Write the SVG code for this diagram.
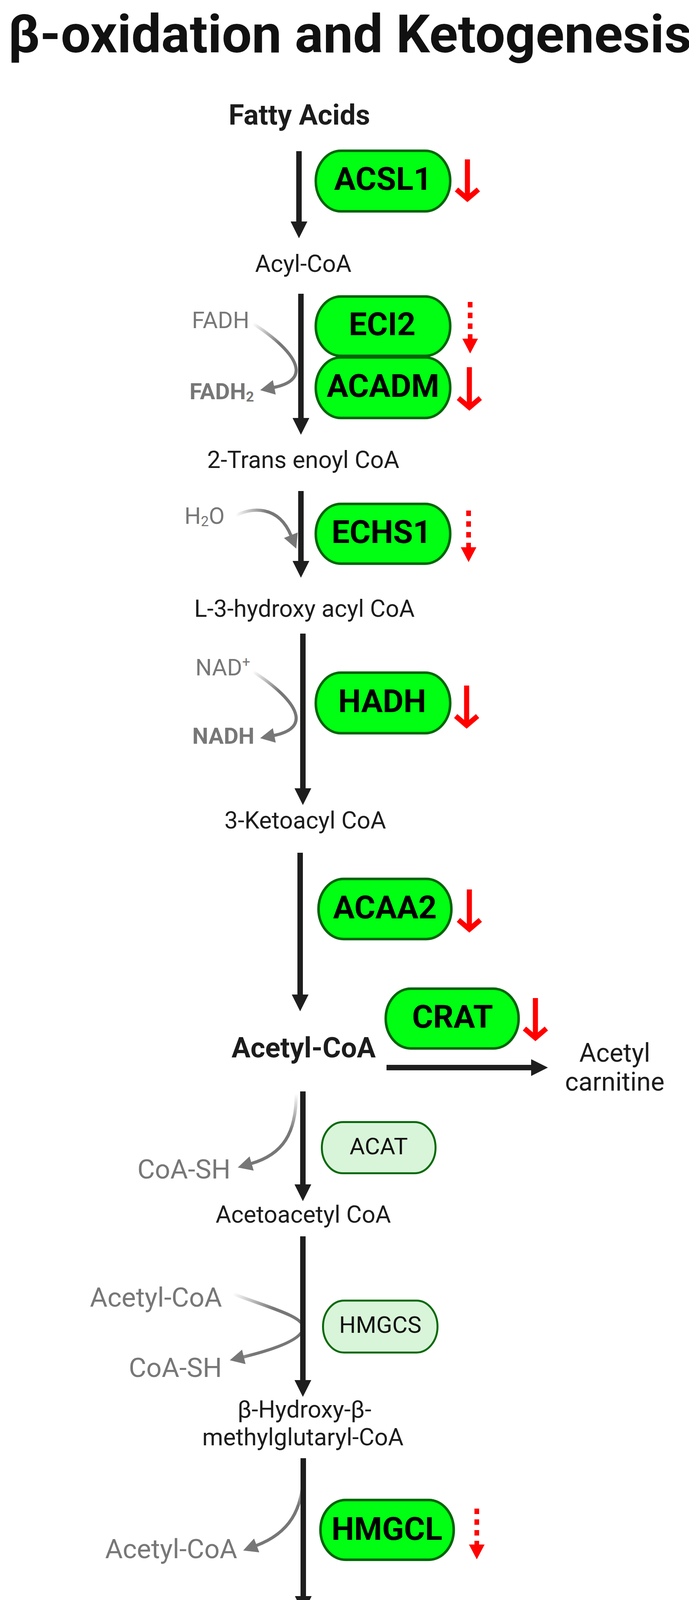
<svg xmlns="http://www.w3.org/2000/svg" width="1763" height="4709" viewBox="0 0 1763 4709">
<style>
text{font-family:Roboto,"Liberation Sans",sans-serif}
.title{font-size:136px;font-weight:700;fill:#111}
.lbl{font-size:61px;fill:#1c1c1c;text-anchor:middle}
.lblb{font-size:72px;font-weight:700;fill:#1c1c1c;text-anchor:middle}
.enz{font-size:82px;font-weight:700;fill:#000;text-anchor:middle}
.enzl{font-size:60px;fill:#111;text-anchor:middle}
.gs{font-size:59px;fill:#777}
.gsb{font-size:58px;font-weight:700;fill:#777}
.gl{font-size:69px;fill:#777;text-anchor:end}
.glb{font-size:68px;font-weight:700;fill:#777;text-anchor:end}
.box{fill:#00ff12;stroke:#006408;stroke-width:6.5}
.boxl{fill:#d9f5d9;stroke:#086a0a;stroke-width:5}
.main{fill:none;stroke:#1e1e1e;stroke-width:14;marker-end:url(#ah)}
.red{fill:none;stroke:#ff0000;stroke-width:13;stroke-linejoin:miter}
.redd{fill:none;stroke:#ff0000;stroke-width:12;stroke-dasharray:14 13.5;marker-end:url(#rt)}
.gc{fill:none;stroke-width:8;marker-end:url(#gh)}
</style>
<defs>
<marker id="ah" viewBox="0 0 43 43" refX="3" refY="21.5" markerWidth="43" markerHeight="43" markerUnits="userSpaceOnUse" orient="auto"><path d="M0,0 L43,21.5 L0,43 z" fill="#1e1e1e"/></marker>
<marker id="rt" viewBox="0 0 38 40" refX="0" refY="20" markerWidth="38" markerHeight="40" markerUnits="userSpaceOnUse" orient="auto"><path d="M0,0 L38,20 L0,40 z" fill="#ff0000"/></marker>
<marker id="gh" viewBox="0 0 37 38" refX="2" refY="19" markerWidth="37" markerHeight="38" markerUnits="userSpaceOnUse" orient="auto"><path d="M0,0 L37,19 L0,38 z" fill="#777"/></marker>
<linearGradient id="g1" gradientUnits="userSpaceOnUse" x1="647" y1="828" x2="712" y2="880"><stop offset="0" stop-color="#fff"/><stop offset="1" stop-color="#777"/></linearGradient>
<linearGradient id="g2" gradientUnits="userSpaceOnUse" x1="603" y1="1320" x2="685" y2="1310"><stop offset="0" stop-color="#fff"/><stop offset="1" stop-color="#777"/></linearGradient>
<linearGradient id="g3" gradientUnits="userSpaceOnUse" x1="647" y1="1719" x2="712" y2="1771"><stop offset="0" stop-color="#fff"/><stop offset="1" stop-color="#777"/></linearGradient>
<linearGradient id="g4" gradientUnits="userSpaceOnUse" x1="758" y1="2800" x2="752" y2="2895"><stop offset="0" stop-color="#fff"/><stop offset="1" stop-color="#777"/></linearGradient>
<linearGradient id="g5" gradientUnits="userSpaceOnUse" x1="596" y1="3312" x2="695" y2="3358"><stop offset="0" stop-color="#fff"/><stop offset="1" stop-color="#777"/></linearGradient>
<linearGradient id="g6" gradientUnits="userSpaceOnUse" x1="776" y1="3768" x2="772" y2="3855"><stop offset="0" stop-color="#fff"/><stop offset="1" stop-color="#777"/></linearGradient>
<linearGradient id="g7" gradientUnits="userSpaceOnUse" x1="596" y1="4292" x2="695" y2="4338"><stop offset="0" stop-color="#fff"/><stop offset="1" stop-color="#777"/></linearGradient>
</defs>
<rect width="1763" height="4709" fill="#fff"/>
<text class="title" x="20" y="134">β-oxidation and Ketogenesis</text>

<g id="cofactor-connectors">
<path class="gc" stroke="url(#g1)" d="M647,828 C700,862 750,905 757,940 C763,970 735,985 700,992"/>
<path class="gc" stroke="url(#g2)" d="M603,1320 C640,1300 712,1290 745,1372"/>
<path class="gc" stroke="url(#g3)" d="M647,1719 C700,1753 750,1796 757,1831 C763,1861 735,1876 700,1883"/>
<path class="gc" stroke="url(#g4)" d="M758,2800 C758,2900 725,2955 642,2979"/>
<path class="gc" stroke="url(#g5)" d="M596,3312 C680,3345 780,3370 776,3400 C772,3430 700,3455 622,3474"/>
<path class="gc" stroke="url(#g6)" d="M776,3768 C776,3865 740,3925 655,3957"/>
<path class="gc" stroke="url(#g7)" d="M596,4292 C680,4325 780,4350 776,4380 C772,4410 700,4430 615,4452"/>
</g>

<g id="connectors">
<path class="main" d="M765,387 V570"/>
<path class="main" d="M770,752 V1073"/>
<path class="main" d="M770,1257 V1439"/>
<path class="main" d="M775,1622 V2021"/>
<path class="main" d="M768,2183 V2549"/>
<path class="main" d="M775,2794 V3035"/>
<path class="main" d="M775,3165 V3536"/>
<path class="main" d="M776,3733 V4089"/>
<path class="main" d="M776,4214 V4569"/>
<path class="main" d="M989,2733 H1362"/>
</g>

<g id="regulation-arrows">
<path class="red" d="M1196,408 V509 M1168,485 L1196,509 L1224,485"/>
<path class="redd" d="M1203,773 V867"/>
<path class="red" d="M1201,940 V1043 M1173,1019 L1201,1043 L1229,1019"/>
<path class="redd" d="M1199,1307 V1401"/>
<path class="red" d="M1194,1755 V1857 M1166,1833 L1194,1857 L1222,1833"/>
<path class="red" d="M1201,2277 V2379 M1173,2355 L1201,2379 L1229,2355"/>
<path class="red" d="M1370,2555 V2657 M1342,2633 L1370,2657 L1398,2633"/>
<path class="redd" d="M1220,3862 V3954"/>
<path class="redd" d="M1220,4319 V4413"/>
</g>

<g id="metabolites">
<text id="fatty-acids" class="lblb" x="766" y="319">Fatty Acids</text>
<text id="acyl-coa" class="lbl" x="776" y="696">Acyl-CoA</text>
<text id="trans-enoyl-coa" class="lbl" x="776" y="1198">2-Trans enoyl CoA</text>
<text id="hydroxy-acyl-coa" class="lbl" x="779" y="1579">L-3-hydroxy acyl CoA</text>
<text id="ketoacyl-coa" class="lbl" x="781" y="2121">3-Ketoacyl CoA</text>
<text id="acetyl-coa" class="lblb" x="777" y="2707">Acetyl-CoA</text>
<text id="acetyl-carnitine" class="lbl" style="font-size:66px" x="1573" y="2718">Acetyl<tspan x="1573" y="2792">carnitine</tspan></text>
<text id="acetoacetyl-coa" class="lbl" x="776" y="3130">Acetoacetyl CoA</text>
<text id="hmg-coa" class="lbl" x="779" y="3629">β-Hydroxy-β-<tspan x="775" y="3700">methylglutaryl-CoA</tspan></text>
<text id="acetoacetate" class="lbl" x="777" y="4183">Acetoacetate</text>
<text id="hydroxybutyrate" class="lbl" x="779" y="4665">D-β-hydroxybutyrate</text>
</g>

<g id="cofactors">
<text class="gs" x="638" y="840" text-anchor="end">FADH</text>
<text class="gsb" x="485" y="1022">FADH<tspan font-size="36" dy="6">2</tspan></text>
<text class="gs" x="472" y="1341">H<tspan font-size="36" dy="6">2</tspan><tspan dy="-6">O</tspan></text>
<text class="gs" x="500" y="1729">NAD<tspan font-size="36" dy="-22">+</tspan></text>
<text class="gsb" x="492" y="1904">NADH</text>
<text class="gl" x="590" y="3017">CoA-SH</text>
<text class="gl" x="568" y="3345">Acetyl-CoA</text>
<text class="gl" x="568" y="3525">CoA-SH</text>
<text class="gl" x="607" y="3989">Acetyl-CoA</text>
<text class="gl" x="571" y="4321">NADH</text>
<text class="glb" x="575" y="4483">NAD<tspan font-size="40" dy="-26">+</tspan></text>
</g>

<g id="ACSL1"><rect class="box" x="808" y="386" width="344" height="155" rx="64" ry="77.5"/><text class="enz" x="980" y="486">ACSL1</text></g>
<g id="ECI2"><rect class="box" x="808" y="759" width="344" height="152" rx="64" ry="76"/><text class="enz" x="978" y="858">ECI2</text></g>
<g id="ACADM"><rect class="box" x="808" y="915" width="344" height="155" rx="64" ry="77.5"/><text class="enz" x="980" y="1016">ACADM</text></g>
<g id="ECHS1"><rect class="box" x="808" y="1290" width="344" height="153" rx="64" ry="76.5"/><text class="enz" x="976" y="1390">ECHS1</text></g>
<g id="HADH"><rect class="box" x="808" y="1722" width="344" height="155" rx="64" ry="77.5"/><text class="enz" x="978" y="1823">HADH</text></g>
<g id="ACAA2"><rect class="box" x="815" y="2250" width="340" height="154" rx="64" ry="77"/><text class="enz" x="985" y="2351">ACAA2</text></g>
<g id="CRAT"><rect class="box" x="987" y="2531" width="340" height="153" rx="64" ry="76.5"/><text class="enz" x="1158" y="2631">CRAT</text></g>
<g id="ACAT"><rect class="boxl" x="823.5" y="2872.5" width="291" height="131" rx="54" ry="65.5"/><text class="enzl" x="969" y="2955">ACAT</text></g>
<g id="HMGCS"><rect class="boxl" x="826.5" y="3329.5" width="293" height="133" rx="54" ry="66.5"/><text class="enzl" x="973" y="3412">HMGCS</text></g>
<g id="HMGCL"><rect class="box" x="820" y="3840" width="341" height="153" rx="64" ry="76.5"/><text class="enz" x="990" y="3942">HMGCL</text></g>
<g id="BDH1"><rect class="box" x="820" y="4316" width="341" height="155" rx="64" ry="77.5"/><text class="enz" x="988" y="4415">BDH1</text></g>
</svg>
